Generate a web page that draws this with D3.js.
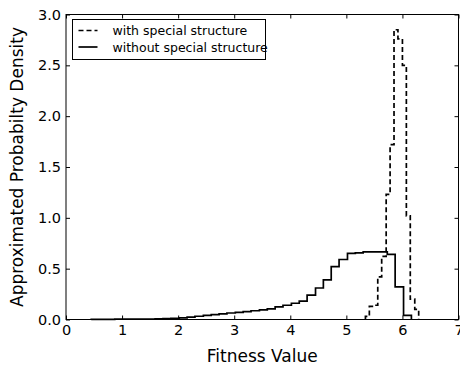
<!DOCTYPE html>
<html>
<head>
<meta charset="utf-8">
<script src="https://cdn.jsdelivr.net/npm/d3@7/dist/d3.min.js"></script>
<style>
  body { margin: 0; background: #fff; }
  text { font-family: "DejaVu Sans", sans-serif; fill: #000; }
</style>
</head>
<body>
<svg id="chart" width="460" height="365"></svg>
<script>
// bin edges and densities
var withEdges = [5.34, 5.41, 5.49, 5.56, 5.63, 5.71, 5.78, 5.85, 5.92, 6.00, 6.07, 6.14, 6.22, 6.29];
var withDensity = [0.03, 0.13, 0.14, 0.42, 0.62, 1.23, 1.72, 2.85, 2.76, 2.50, 1.02, 0.20, 0.10];

var withoutEdges = [0.45, 0.59, 0.73, 0.87, 1.02, 1.16, 1.30, 1.45, 1.59, 1.73,
                    1.87, 2.02, 2.16, 2.30, 2.45, 2.59, 2.73, 2.87, 3.02, 3.16,
                    3.30, 3.45, 3.59, 3.73, 3.87, 4.02, 4.16, 4.30, 4.45, 4.59,
                    4.73, 4.87, 5.02, 5.16, 5.30, 5.45, 5.59, 5.73, 5.87, 6.02, 6.16];
var withoutDensity = [0.002, 0.002, 0.002, 0.003, 0.003, 0.004, 0.004, 0.005, 0.006, 0.008,
                      0.011, 0.016, 0.024, 0.032, 0.040, 0.048, 0.056, 0.064, 0.071, 0.078,
                      0.086, 0.094, 0.104, 0.125, 0.14, 0.16, 0.18, 0.24, 0.31, 0.39,
                      0.52, 0.59, 0.65, 0.655, 0.665, 0.665, 0.665, 0.64, 0.32, 0.04];

var xTicks = [0, 1, 2, 3, 4, 5, 6, 7];
var yTicks = [0, 0.5, 1.0, 1.5, 2.0, 2.5, 3.0];
var legendLabels = ["with special structure", "without special structure"];

var svg = d3.select("#chart");
var margin = {left: 66, right: 1.5, top: 14.5, bottom: 45.5};
var W = 460, H = 365;

var x = d3.scaleLinear().domain([0, 7]).range([margin.left, W - margin.right]);
var y = d3.scaleLinear().domain([0, 3]).range([H - margin.bottom, margin.top]);

// turn bins into step points (starts and ends on the baseline)
function stepPoints(edges, vals) {
  var pts = [[edges[0], 0]];
  vals.forEach(function(v, i) { pts.push([edges[i], v]); });
  pts.push([edges[edges.length - 1], vals[vals.length - 1]]);
  pts.push([edges[edges.length - 1], 0]);
  return pts;
}

var line = d3.line()
  .x(d => x(d[0]))
  .y(d => y(d[1]))
  .curve(d3.curveStepAfter);

svg.append("path")
  .datum(stepPoints(withoutEdges, withoutDensity))
  .attr("d", line)
  .attr("fill", "none")
  .attr("stroke", "#000")
  .attr("stroke-width", 1.7);

svg.append("path")
  .datum(stepPoints(withEdges, withDensity))
  .attr("d", line)
  .attr("fill", "none")
  .attr("stroke", "#000")
  .attr("stroke-width", 1.7)
  .attr("stroke-dasharray", "5,3");

// axes, ticks pointing inward on all four sides
function styleAxis(g) {
  g.select(".domain").remove();
  g.selectAll(".tick line").attr("stroke", "#000").attr("stroke-width", 1);
  g.selectAll(".tick text").style("font-size", "14.5px").style("font-family", "DejaVu Sans");
}

svg.append("g")
  .attr("transform", "translate(0," + y(0) + ")")
  .call(d3.axisBottom(x).tickValues(xTicks).tickFormat(d3.format("d")).tickSizeInner(-4).tickPadding(5))
  .call(styleAxis);

svg.append("g")
  .attr("transform", "translate(0," + y(3) + ")")
  .call(d3.axisTop(x).tickValues(xTicks).tickFormat("").tickSizeInner(-4))
  .call(styleAxis);

svg.append("g")
  .attr("transform", "translate(" + x(0) + ",0)")
  .call(d3.axisLeft(y).tickValues(yTicks).tickFormat(d3.format(".1f")).tickSizeInner(-4).tickPadding(5))
  .call(styleAxis);

svg.append("g")
  .attr("transform", "translate(" + x(7) + ",0)")
  .call(d3.axisRight(y).tickValues(yTicks).tickFormat("").tickSizeInner(-4))
  .call(styleAxis);

svg.append("rect")
  .attr("x", x(0)).attr("y", y(3))
  .attr("width", x(7) - x(0)).attr("height", y(0) - y(3))
  .attr("fill", "none").attr("stroke", "#000").attr("stroke-width", 1);

svg.append("text")
  .attr("x", (x(0) + x(7)) / 2).attr("y", 362)
  .attr("text-anchor", "middle")
  .style("font-size", "17px")
  .text("Fitness Value");

svg.append("text")
  .attr("transform", "translate(23," + (y(0) + y(3)) / 2 + ") rotate(-90)")
  .attr("text-anchor", "middle")
  .style("font-size", "17px")
  .text("Approximated Probabilty Density");

// legend
var lg = svg.append("g").attr("transform", "translate(72.5,19.5)");
lg.append("rect")
  .attr("width", 193).attr("height", 40)
  .attr("fill", "#fff").attr("stroke", "#000").attr("stroke-width", 1);

lg.selectAll(".entry")
  .data(legendLabels)
  .enter()
  .append("g")
  .attr("class", "entry")
  .attr("transform", (d, i) => "translate(0," + (11 + i * 16.5) + ")")
  .each(function(d, i) {
    var g = d3.select(this);
    g.append("line")
      .attr("x1", 6).attr("x2", 25)
      .attr("stroke", "#000").attr("stroke-width", 1.7)
      .attr("stroke-dasharray", i === 0 ? "5,3" : null);
    g.append("text")
      .attr("x", 40).attr("y", 4.5)
      .style("font-size", "12.5px")
      .text(d);
  });
</script>
</body>
</html>
